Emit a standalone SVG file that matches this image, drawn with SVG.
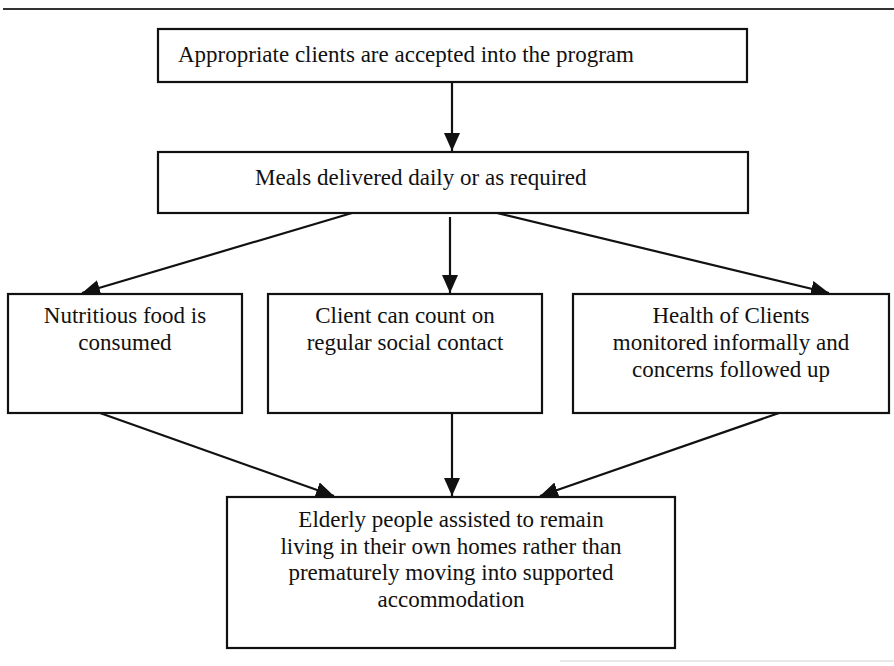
<svg xmlns="http://www.w3.org/2000/svg" width="894" height="666" viewBox="0 0 894 666">
  <style>
    .box { fill: #ffffff; stroke: #111111; stroke-width: 2.2; }
    .lbl { font-family: "Liberation Serif", "Times New Roman", serif; font-size: 23px; fill: #111111; }
    .mid { text-anchor: middle; }
    .edge { stroke: #111111; stroke-width: 2.2; fill: none; marker-end: url(#arrow); }
  </style>
  <defs>
    <marker id="arrow" viewBox="0 0 18 16" refX="18" refY="8" markerWidth="18" markerHeight="16" markerUnits="userSpaceOnUse" orient="auto">
      <path d="M0,0 L18,8 L0,16 z" fill="#111111"/>
    </marker>
  </defs>

  <rect width="894" height="666" fill="#ffffff"/>
  <!-- page rule -->
  <line x1="3" y1="9" x2="894" y2="9" stroke="#333333" stroke-width="2"/>
  <line x1="560" y1="661" x2="894" y2="661" stroke="#e2e2e2" stroke-width="1.5"/>

  <g id="connectors">
    <line class="edge" x1="452" y1="82" x2="452" y2="151"/>
    <line class="edge" x1="352" y1="213" x2="82" y2="293"/>
    <line class="edge" x1="450" y1="217" x2="450" y2="293"/>
    <line class="edge" x1="497" y1="213" x2="829" y2="293"/>
    <line class="edge" x1="100" y1="413" x2="334" y2="496"/>
    <line class="edge" x1="452" y1="413" x2="452" y2="496"/>
    <line class="edge" x1="782" y1="412" x2="540" y2="496"/>
  </g>

  <g id="accepted">
    <rect class="box" x="158" y="29" width="589" height="53"/>
    <text class="lbl" x="178" y="62">Appropriate clients are accepted into the program</text>
  </g>

  <g id="meals">
    <rect class="box" x="158" y="152" width="590" height="61"/>
    <text class="lbl" x="255" y="185">Meals delivered daily or as required</text>
  </g>

  <g id="nutrition">
    <rect class="box" x="8" y="294" width="234" height="119"/>
    <text class="lbl mid" x="125" y="323">Nutritious food is</text>
    <text class="lbl mid" x="125" y="350">consumed</text>
  </g>

  <g id="contact">
    <rect class="box" x="268" y="294" width="274" height="119"/>
    <text class="lbl mid" x="405" y="323">Client can count on</text>
    <text class="lbl mid" x="405" y="350">regular social contact</text>
  </g>

  <g id="health">
    <rect class="box" x="573" y="294" width="316" height="119"/>
    <text class="lbl mid" x="731" y="323">Health of Clients</text>
    <text class="lbl mid" x="731" y="350">monitored informally and</text>
    <text class="lbl mid" x="731" y="377">concerns followed up</text>
  </g>

  <g id="outcome">
    <rect class="box" x="227" y="497" width="448" height="151"/>
    <text class="lbl mid" x="451" y="527">Elderly people assisted to remain</text>
    <text class="lbl mid" x="451" y="553.5">living in their own homes rather than</text>
    <text class="lbl mid" x="451" y="580">prematurely moving into supported</text>
    <text class="lbl mid" x="451" y="606.5">accommodation</text>
  </g>
</svg>
